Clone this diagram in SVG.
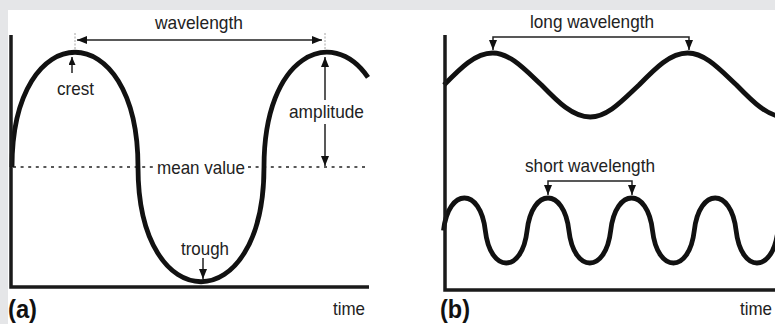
<svg xmlns="http://www.w3.org/2000/svg" width="775" height="324" viewBox="0 0 775 324">
<defs>
<style>
.bg{fill:#e5e6e8}
.paper{fill:#ffffff}
.axis{stroke:#1a1a1a;stroke-width:3.5;fill:none}
.wave{stroke:#111;stroke-width:4.8;fill:none;stroke-linecap:butt}
.thin{stroke:#222;stroke-width:1.5;fill:none}
.guide{stroke:#9a9a9a;stroke-width:0.9;stroke-dasharray:2,1.5;fill:none}
.mean{stroke:#222;stroke-width:1.4;stroke-dasharray:3,4.6;fill:none}
.lbl{font-family:"Liberation Sans",Arial,Helvetica,sans-serif;font-size:19px;fill:#222}
.big{font-family:"Liberation Sans",Arial,Helvetica,sans-serif;font-size:25px;font-weight:bold;fill:#111}
</style>
<marker id="ah" viewBox="0 0 10 8" refX="10" refY="4" markerWidth="10" markerHeight="8" markerUnits="userSpaceOnUse" orient="auto-start-reverse">
<path d="M0,0 L10,4 L0,8 z" fill="#111"/>
</marker>
<marker id="ahs" viewBox="0 0 8 7" refX="8" refY="3.5" markerWidth="8" markerHeight="7" markerUnits="userSpaceOnUse" orient="auto-start-reverse">
<path d="M0,0 L8,3.5 L0,7 z" fill="#111"/>
</marker>
</defs>
<rect class="bg" x="0" y="0" width="775" height="324"/>
<rect class="paper" x="8" y="10" width="767" height="314"/>

<g id="panel-a">
  <g id="a-mean-line">
    <path class="mean" d="M13,167 H153 M248,167 H366"/>
  </g>
  <g id="a-wave">
    <path class="wave" d="M12,167 C12,14 138,14 138,167 C138,320 264,320 264,167 C264,54.7 331.9,24.8 368,77.4"/>
  </g>
  <g id="a-axes">
    <path class="axis" d="M11,35 V287 H369"/>
  </g>
  <g id="a-labels">
    <text class="lbl" x="155" y="29" textLength="88" lengthAdjust="spacingAndGlyphs">wavelength</text>
    <text class="lbl" x="57" y="95" textLength="37" lengthAdjust="spacingAndGlyphs">crest</text>
    <text class="lbl" x="289" y="118" textLength="75" lengthAdjust="spacingAndGlyphs">amplitude</text>
    <text class="lbl" x="157" y="174" textLength="88" lengthAdjust="spacingAndGlyphs">mean value</text>
    <text class="lbl" x="181" y="255" textLength="48" lengthAdjust="spacingAndGlyphs">trough</text>
    <text class="lbl" x="333" y="315" textLength="32" lengthAdjust="spacingAndGlyphs">time</text>
    <text class="big" x="8" y="318" textLength="29" lengthAdjust="spacingAndGlyphs">(a)</text>
  </g>
</g>

<g id="panel-b">
  <g id="b-long-wave">
    <path class="wave" d="M444,85 c16.3,-16.8 31.2,-32 48.75,-32 c17.55,0 32.45,16.8 48.75,32 c16.3,16.8 31.2,32 48.75,32 c17.55,0 32.45,-16.8 48.75,-32 c16.3,-16.8 31.2,-32 48.75,-32 c17.55,0 32.45,16.8 48.75,32 c16.3,16.8 31.2,32 48.75,32"/>
  </g>
  <g id="b-short-wave">
    <path class="wave" d="M443.5,230.5 c5,-43.33 36.8,-43.33 41.8,0 c5,43.33 36.8,43.33 41.8,0 c5,-43.33 36.8,-43.33 41.8,0 c5,43.33 36.8,43.33 41.8,0 c5,-43.33 36.8,-43.33 41.8,0 c5,43.33 36.8,43.33 41.8,0 c5,-43.33 36.8,-43.33 41.8,0 c5,43.33 36.8,43.33 41.8,0"/>
  </g>
  <g id="b-axes">
    <path class="axis" d="M445,35 V290 H776"/>
  </g>
  <g id="b-labels">
    <text class="lbl" x="530" y="28" textLength="124" lengthAdjust="spacingAndGlyphs">long wavelength</text>
    <text class="lbl" x="525" y="172" textLength="130" lengthAdjust="spacingAndGlyphs">short wavelength</text>
    <text class="lbl" x="740" y="315" textLength="32" lengthAdjust="spacingAndGlyphs">time</text>
    <text class="big" x="440" y="318" textLength="30" lengthAdjust="spacingAndGlyphs">(b)</text>
  </g>
</g>

<g id="connectors">
  <path class="guide" d="M75,33 V50 M325,33 V50"/>
  <line class="thin" x1="77" y1="40" x2="322" y2="40" marker-start="url(#ah)" marker-end="url(#ah)"/>
  <line class="thin" x1="72" y1="73" x2="72" y2="57" marker-end="url(#ahs)"/>
  <line class="thin" x1="325" y1="100" x2="325" y2="57" marker-end="url(#ah)"/>
  <line class="thin" x1="325" y1="124" x2="325" y2="166" marker-end="url(#ah)"/>
  <line class="thin" x1="203" y1="258" x2="203" y2="279" marker-end="url(#ah)"/>
  <path class="thin" d="M493,50 V37 H689 V50" marker-start="url(#ah)" marker-end="url(#ah)"/>
  <path class="thin" d="M548,195 V181 H632 V195" marker-start="url(#ah)" marker-end="url(#ah)"/>
</g>
</svg>
